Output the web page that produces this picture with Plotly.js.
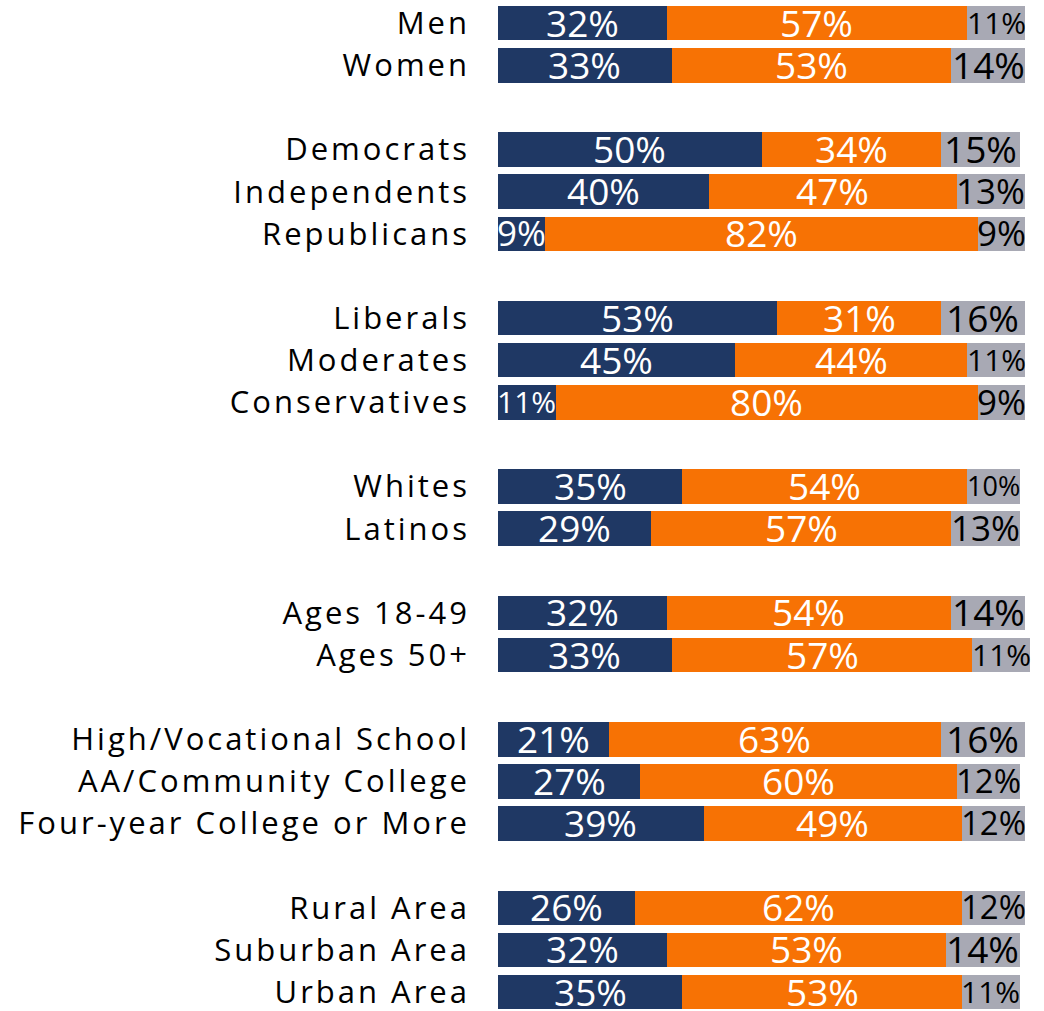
<!DOCTYPE html>
<html>
<head>
<meta charset="utf-8">
<script src="https://cdn.plot.ly/plotly-3.0.1.min.js"></script>
<style>
html,body{margin:0;padding:0;background:#fff;}
#chart{width:1044px;height:1011px;}
#chart .ytick text{letter-spacing:3px;}
</style>
</head>
<body>
<div id="chart"></div>
<script>
const categories = ["Men","Women","Democrats","Independents","Republicans","Liberals","Moderates","Conservatives","Whites","Latinos","Ages 18-49","Ages 50+","High/Vocational School","AA/Community College","Four-year College or More","Rural Area","Suburban Area","Urban Area"];
const groupSizes = [2,3,3,2,2,3,3];
const navyVals = [32,33,50,40,9,53,45,11,35,29,32,33,21,27,39,26,32,35];
const orangeVals = [57,53,34,47,82,31,44,80,54,57,54,57,63,60,49,62,53,53];
const grayVals = [11,14,15,13,9,16,11,9,10,13,14,11,16,12,12,12,14,11];

// slot positions with one empty slot between groups
const yPos = [];
let slot = 0;
groupSizes.forEach((n) => {
  for (let i = 0; i < n; i++) { yPos.push(slot); slot++; }
  slot++;
});
const totalSlots = slot - 1;

const FONT = "'Open Sans', sans-serif";
const BASE = 37;
const L = 498, XMAX = 101.5, PXPER = 5.27;
const plotW = XMAX * PXPER;
const R = 1044 - L - plotW;

const cvs = document.createElement('canvas');
const ctx = cvs.getContext('2d');
ctx.font = BASE + "px 'Open Sans'";
function fitSize(txt, widthPct) {
  const w = ctx.measureText(txt).width;
  const avail = widthPct * PXPER + 2;
  return Math.min(BASE, Math.floor(BASE * avail / w));
}

const series = [
  {vals: navyVals, color: '#1F3864', text: '#ffffff'},
  {vals: orangeVals, color: '#F77204', text: '#ffffff'},
  {vals: grayVals, color: '#A8A9B4', text: '#000000'}
];
const data = [];
const annotations = [];
const base = navyVals.map(() => 0);
series.forEach(s => {
  data.push({
    type: 'bar', orientation: 'h',
    x: s.vals, y: yPos,
    marker: {color: s.color, line: {width: 0}},
    hoverinfo: 'skip'
  });
  s.vals.forEach((v, i) => {
    const txt = v + '%';
    annotations.push({
      x: base[i] + v / 2, y: yPos[i], xref: 'x', yref: 'y',
      text: txt, showarrow: false,
      xanchor: 'center', yanchor: 'middle', yshift: 1,
      font: {family: FONT, size: fitSize(txt, v), color: s.text}
    });
    base[i] += v;
  });
});

const layout = {
  width: 1044, height: 1011,
  margin: {l: L, r: R, t: 0, b: 0, pad: 0},
  barmode: 'stack',
  bargap: 0.18,
  showlegend: false,
  paper_bgcolor: '#ffffff', plot_bgcolor: '#ffffff',
  annotations: annotations,
  xaxis: {range: [0, XMAX], visible: false, fixedrange: true},
  yaxis: {
    range: [totalSlots - 1 + 0.45, -0.55],
    tickvals: yPos, ticktext: categories,
    showgrid: false, zeroline: false, showline: false, ticks: '',
    ticklabelstandoff: 27,
    ticklabeloverflow: 'allow',
    tickfont: {family: FONT, size: 31, color: '#000000'},
    fixedrange: true
  },
  font: {family: FONT}
};
Plotly.newPlot('chart', data, layout, {displayModeBar: false, staticPlot: true});
</script>
</body>
</html>
